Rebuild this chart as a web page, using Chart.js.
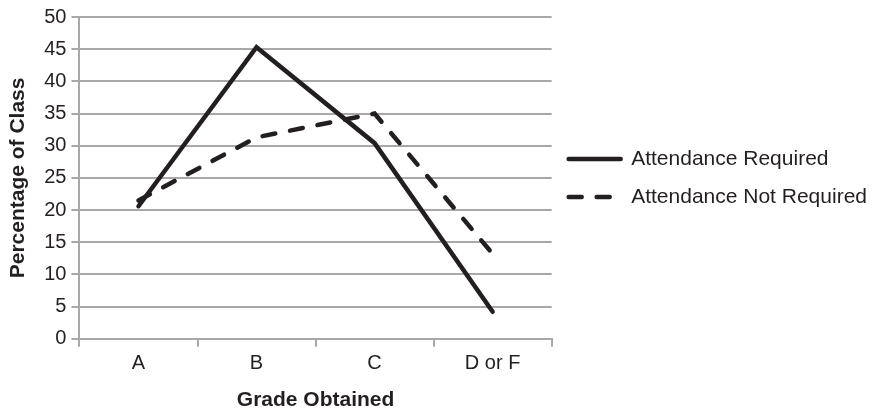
<!DOCTYPE html>
<html>
<head>
<meta charset="utf-8">
<script src="https://cdn.jsdelivr.net/npm/chart.js@4.4.1/dist/chart.umd.min.js"></script>
<style>
  html, body { margin: 0; padding: 0; background: #fff; }
  #wrap { width: 875px; height: 413px; }
</style>
</head>
<body>
<div id="wrap"><canvas id="gradesChart"></canvas></div>
<script>
const grades = ["A", "B", "C", "D or F"];
const attendanceRequired = [20.6, 45.3, 30.4, 4.2];
const attendanceNotRequired = [21.5, 31.3, 35.0, 13.2];
const yTicks = [0, 5, 10, 15, 20, 25, 30, 35, 40, 45, 50];

const ink = "#231f20";
const gridGray = "#a8a8aa";
const font = "'Liberation Sans', Arial, Helvetica, sans-serif";

Chart.defaults.font.family = font;
Chart.defaults.font.size = 20;
Chart.defaults.color = ink;

// legend lines should copy the dash of their dataset
function legendLabels(chart) {
  return Chart.defaults.plugins.legend.labels.generateLabels(chart).map(item => {
    const ds = chart.data.datasets[item.datasetIndex];
    return Object.assign(item, {
      lineDash: ds.borderDash || [],
      lineWidth: ds.borderWidth,
      lineCap: "round",
      strokeStyle: ds.borderColor,
      pointStyle: "line"
    });
  });
}

new Chart(document.getElementById("gradesChart"), {
  type: "line",
  data: {
    labels: grades,
    datasets: [{
      label: "Attendance Required",
      data: attendanceRequired,
      borderColor: ink,
      backgroundColor: ink,
      borderWidth: 4.5,
      borderCapStyle: "round",
      pointRadius: 0,
      tension: 0
    }, {
      label: "Attendance Not Required",
      data: attendanceNotRequired,
      borderColor: ink,
      backgroundColor: ink,
      borderWidth: 4.5,
      borderDash: [13, 15],
      borderCapStyle: "round",
      pointRadius: 0,
      tension: 0
    }]
  },
  options: {
    responsive: true,
    maintainAspectRatio: false,
    animation: false,
    layout: { padding: { left: 6, right: -2, top: 16, bottom: 0 } },
    plugins: {
      tooltip: { enabled: false },
      legend: {
        position: "right",
        fullSize: false,
        maxWidth: 360,
        labels: {
          usePointStyle: true,
          pointStyleWidth: 52,
          boxWidth: 52,
          padding: 17,
          color: ink,
          font: { size: 21 },
          generateLabels: legendLabels
        }
      }
    },
    scales: {
      x: {
        offset: true,
        grid: {
          offset: true,
          drawOnChartArea: false,
          drawTicks: true,
          tickLength: 8,
          color: gridGray,
          lineWidth: 2
        },
        border: { color: gridGray, width: 2 },
        ticks: { padding: 5, color: ink, font: { size: 20 } },
        title: {
          display: true,
          text: "Grade Obtained",
          color: ink,
          font: { size: 21, weight: "bold" },
          padding: { top: 7, bottom: 0 }
        }
      },
      y: {
        min: 0,
        max: 50,
        afterBuildTicks: axis => { axis.ticks = yTicks.map(v => ({ value: v })); },
        grid: {
          color: gridGray,
          lineWidth: 2,
          tickLength: 8
        },
        border: { color: gridGray, width: 2 },
        ticks: { padding: 5, color: ink, font: { size: 20 } },
        title: {
          display: true,
          text: "Percentage of Class",
          color: ink,
          font: { size: 21, weight: "bold" },
          padding: { top: 0, bottom: 8 }
        }
      }
    }
  }
});
</script>
</body>
</html>
